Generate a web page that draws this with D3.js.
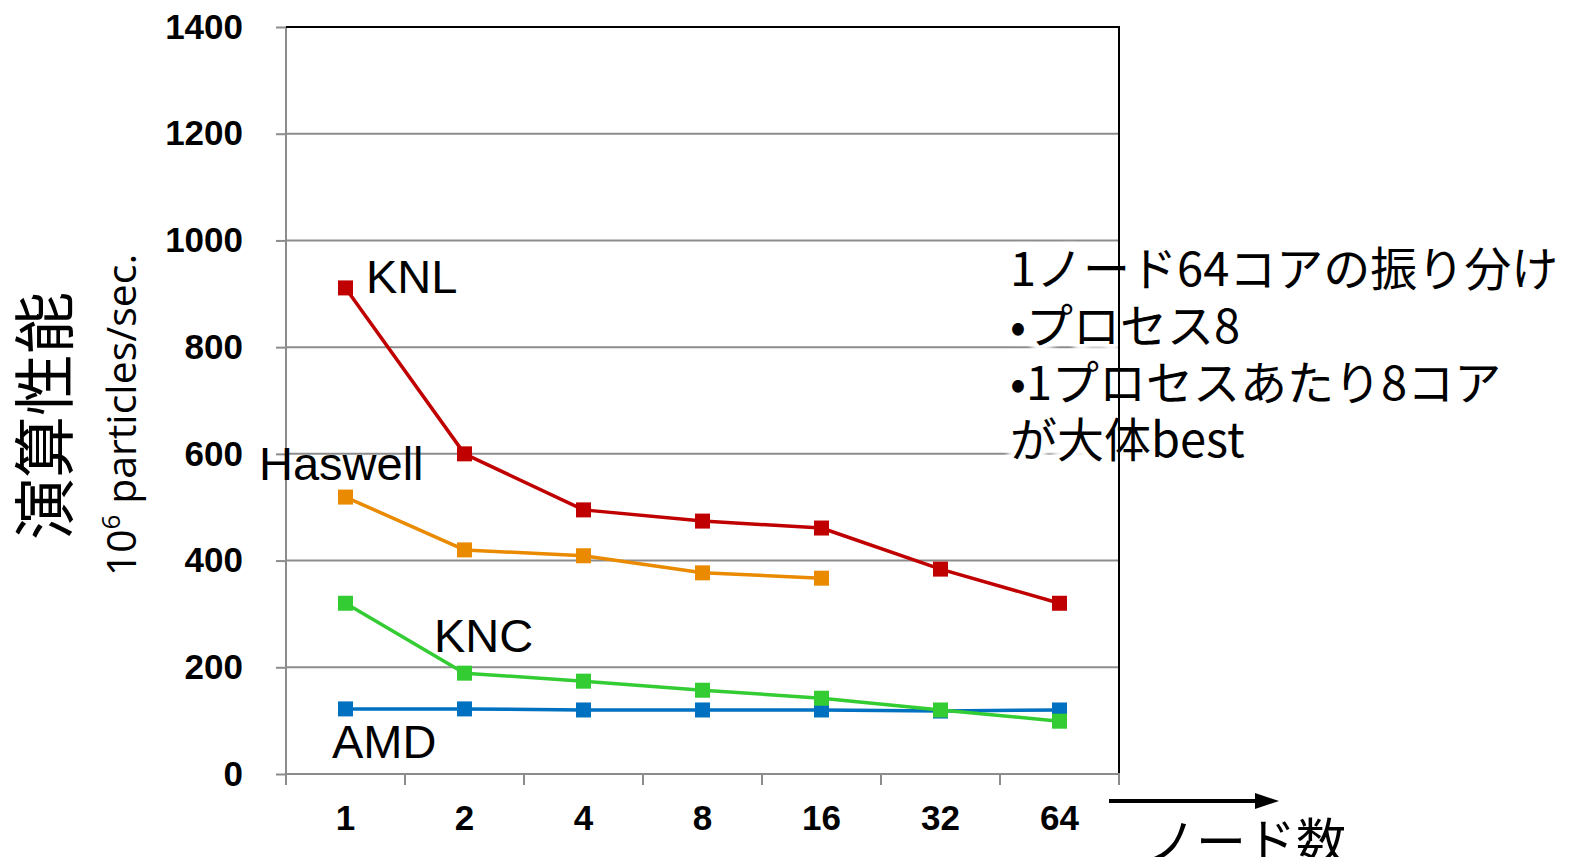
<!DOCTYPE html>
<html>
<head>
<meta charset="utf-8">
<script src="https://cdn.jsdelivr.net/npm/d3@7"></script>
<style>
  html, body { margin: 0; padding: 0; background: #fff; overflow: hidden; }
  svg { display: block; }
</style>
</head>
<body>
<svg id="chart" width="1569" height="857"></svg>
<script>
// Node counts on the category axis
const nodeCounts = ["1", "2", "4", "8", "16", "32", "64"];
// Throughput, 10^6 particles/sec.
const knl     = [911, 600, 495, 474, 461, 384, 320];
const haswell = [519, 420, 409, 377, 367];
const knc     = [320, 189, 174, 157, 142, 120, 99];
const amd     = [122, 122, 120, 120, 120, 118, 120];
const yTicks  = [0, 200, 400, 600, 800, 1000, 1200, 1400];

const series = [
  { name: "AMD",     values: amd,     color: "#0070C0", lx: 332, ly: 758 },
  { name: "KNC",     values: knc,     color: "#33CC33", lx: 434, ly: 652 },
  { name: "Haswell", values: haswell, color: "#E98A00", lx: 259, ly: 480 },
  { name: "KNL",     values: knl,     color: "#C00000", lx: 366, ly: 293 }
];

const noteLines = [
  "1ノード64コアの振り分け",
  "•プロセス8",
  "•1プロセスあたり8コア",
  "が大体best"
];

const svg = d3.select("#chart");
const plot = { left: 286, right: 1119, top: 27, bottom: 774 };

const x = d3.scaleBand().domain(nodeCounts).range([plot.left, plot.right]).padding(0);
const y = d3.scaleLinear().domain([0, 1400]).range([plot.bottom, plot.top]);

const defs = svg.append("defs");
defs.append("filter").attr("id", "halo").attr("x", "-10%").attr("y", "-30%")
  .attr("width", "120%").attr("height", "160%")
  .append("feGaussianBlur").attr("stdDeviation", 2.5);

// Horizontal gridlines
svg.append("g")
  .selectAll("line")
  .data(yTicks.filter(d => d > 0 && d < 1400))
  .join("line")
  .attr("x1", plot.left).attr("x2", plot.right)
  .attr("y1", d => y(d)).attr("y2", d => y(d))
  .attr("stroke", "#8C8C8C").attr("stroke-width", 2);

// Y axis
const yAxis = svg.append("g")
  .attr("transform", `translate(${plot.left},0)`)
  .call(d3.axisLeft(y).tickValues(yTicks).tickFormat(d3.format("d"))
    .tickSize(10).tickPadding(33).tickSizeOuter(0));
yAxis.select(".domain").remove();
yAxis.selectAll(".tick line").attr("stroke", "#8C8C8C").attr("stroke-width", 2);
yAxis.selectAll(".tick text")
  .attr("fill", "#000")
  .style("font-family", "'Liberation Sans', Arial, sans-serif")
  .style("font-weight", "bold")
  .style("font-size", "35px");
svg.append("line")
  .attr("x1", plot.left).attr("x2", plot.left)
  .attr("y1", plot.top).attr("y2", plot.bottom + 11)
  .attr("stroke", "#8C8C8C").attr("stroke-width", 2);

// X axis
const xAxis = svg.append("g")
  .attr("transform", `translate(0,${plot.bottom})`)
  .call(d3.axisBottom(x).tickSize(0).tickPadding(31));
xAxis.select(".domain").remove();
xAxis.selectAll(".tick text")
  .attr("fill", "#000")
  .style("font-family", "'Liberation Sans', Arial, sans-serif")
  .style("font-weight", "bold")
  .style("font-size", "35px");
svg.append("line")
  .attr("x1", plot.left).attr("x2", plot.right)
  .attr("y1", plot.bottom).attr("y2", plot.bottom)
  .attr("stroke", "#8C8C8C").attr("stroke-width", 2);
// Tick marks on category boundaries
svg.append("g")
  .selectAll("line")
  .data(nodeCounts.map(d => x(d)).concat([plot.right]))
  .join("line")
  .attr("x1", d => d).attr("x2", d => d)
  .attr("y1", plot.bottom).attr("y2", plot.bottom + 11)
  .attr("stroke", "#8C8C8C").attr("stroke-width", 2);

// Top frame edge
svg.append("line")
  .attr("x1", plot.left).attr("x2", plot.right)
  .attr("y1", plot.top).attr("y2", plot.top)
  .attr("stroke", "#000").attr("stroke-width", 2);

// Series lines and square markers
const line = d3.line()
  .x((d, i) => x(nodeCounts[i]) + x.bandwidth() / 2)
  .y(d => y(d));

const ms = 15;
series.forEach(s => {
  const g = svg.append("g");
  g.append("path")
    .datum(s.values)
    .attr("d", line)
    .attr("fill", "none")
    .attr("stroke", s.color)
    .attr("stroke-width", 3.5)
    .attr("stroke-linejoin", "round");
  g.selectAll("rect")
    .data(s.values)
    .join("rect")
    .attr("x", (d, i) => x(nodeCounts[i]) + x.bandwidth() / 2 - ms / 2)
    .attr("y", d => y(d) - ms / 2)
    .attr("width", ms).attr("height", ms)
    .attr("fill", s.color);
});

// Series name labels
svg.append("g")
  .selectAll("text")
  .data(series)
  .join("text")
  .attr("x", d => d.lx).attr("y", d => d.ly)
  .text(d => d.name)
  .attr("fill", "#000")
  .style("font-family", "'Liberation Sans', Arial, sans-serif")
  .style("font-size", "47px");

// Y axis titles
svg.append("text")
  .attr("transform", "translate(68,416) rotate(-90)")
  .attr("text-anchor", "middle")
  .style("font-family", "'Noto Sans CJK JP', sans-serif")
  .style("font-size", "62px")
  .attr("fill", "#000")
  .text("演算性能");

const unit = svg.append("text")
  .attr("transform", "translate(136,415) rotate(-90)")
  .attr("text-anchor", "middle")
  .style("font-family", "'Open Sans', sans-serif")
  .style("font-size", "41px")
  .attr("fill", "#000");
unit.append("tspan").text("10");
unit.append("tspan").attr("dy", -16).style("font-size", "26px").text("6");
unit.append("tspan").attr("dy", 16).text(" particles/sec.");

// Annotation with white halo
const note = svg.append("g")
  .style("font-family", "'Noto Sans CJK JP', sans-serif")
  .style("font-size", "47px");
note.append("g").attr("filter", "url(#halo)")
  .selectAll("text")
  .data(noteLines)
  .join("text")
  .attr("x", 1010).attr("y", (d, i) => 286 + i * 57)
  .attr("fill", "#fff").attr("stroke", "#fff")
  .attr("stroke-width", 14).attr("stroke-linejoin", "round")
  .text(d => d);
note.append("g")
  .selectAll("text")
  .data(noteLines)
  .join("text")
  .attr("x", 1010).attr("y", (d, i) => 286 + i * 57)
  .attr("fill", "#000")
  .text(d => d);

// Right frame edge drawn above the annotation
svg.append("line")
  .attr("x1", plot.right).attr("x2", plot.right)
  .attr("y1", plot.top - 1).attr("y2", plot.bottom + 11)
  .attr("stroke", "#000").attr("stroke-width", 2);
svg.append("line")
  .attr("x1", plot.right).attr("x2", plot.right)
  .attr("y1", plot.bottom - 1).attr("y2", plot.bottom + 11)
  .attr("stroke", "#8C8C8C").attr("stroke-width", 2);

// Node-count arrow and caption
svg.append("line")
  .attr("x1", 1109).attr("x2", 1258)
  .attr("y1", 801).attr("y2", 801)
  .attr("stroke", "#000").attr("stroke-width", 4);
svg.append("path")
  .attr("d", d3.line()([[1255, 793], [1279, 801], [1255, 809]]))
  .attr("fill", "#000");
svg.append("text")
  .attr("x", 1146).attr("y", 860)
  .style("font-family", "'Noto Sans CJK JP', sans-serif")
  .style("font-size", "50px")
  .attr("fill", "#000")
  .text("ノード数");
</script>
</body>
</html>
